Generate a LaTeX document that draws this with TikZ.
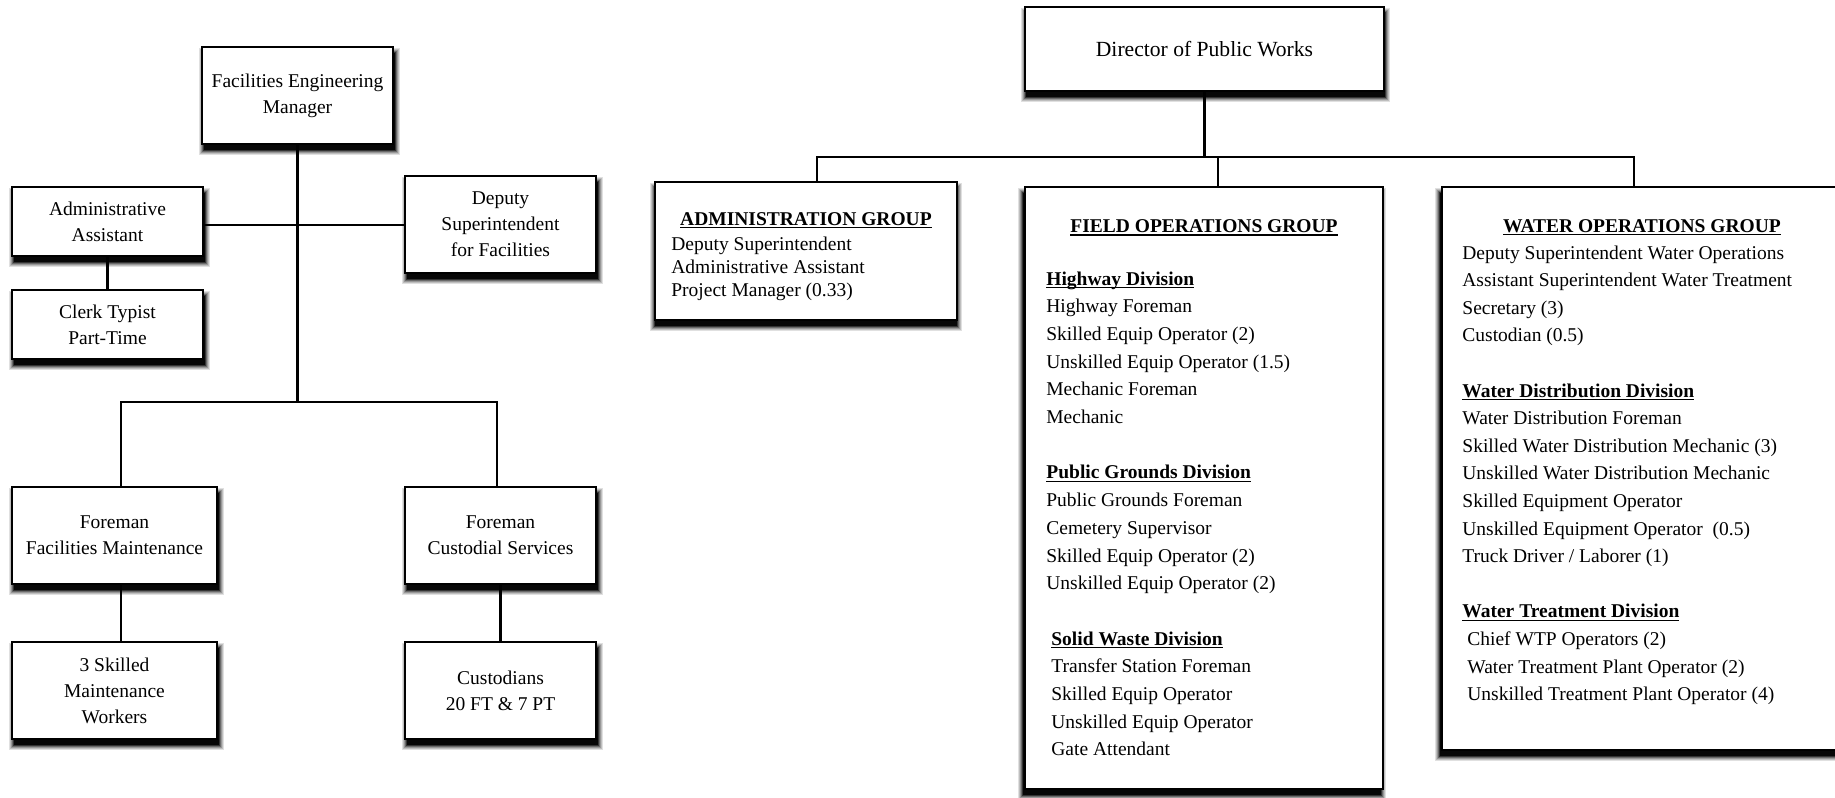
\documentclass[tikz,border=0pt]{standalone}
\usepackage{fontspec}
\setmainfont{Liberation Serif}
\usetikzlibrary{backgrounds}

% bold heading with a thin underline just below the baseline
\newcommand{\ulb}[1]{\setbox0\hbox{\bfseries #1}\rlap{\rule[-1.6bp]{\wd0}{0.75bp}}\box0}

% framed box given by its corners (x1,y1) and (x2,y2), in pixel units
\newcommand{\orgbox}[6]{%
  \pgfmathsetmacro\obw{(#4-#2)*0.5}%
  \pgfmathsetmacro\obh{(#5-#3)*0.5}%
  \node[box, minimum width=\obw bp, minimum height=\obh bp] (#1) at ({(#2+#4)/2},{(#3+#5)/2}) {#6};}

\tikzset{
  box/.style={draw=black, line width=1.15bp, fill=white, rectangle, inner sep=0pt,
    outer sep=0pt, align=center, font=\fontsize{9.75bp}{13bp}\selectfont},
  conn/.style={line width=1.15bp},
  item/.style={inner sep=0pt, anchor=base west, font=\fontsize{9.75bp}{12bp}\selectfont},
  ttl/.style={inner sep=0pt, anchor=base, font=\fontsize{9.75bp}{12bp}\selectfont},
}

\begin{document}
\begin{tikzpicture}[x=0.5bp, y=-0.5bp]
\useasboundingbox (0,0) rectangle (1835,798);

% ---------------- Facilities chart ----------------
\orgbox{fem}{202}{47}{393}{144}{Facilities Engineering\\Manager}
\orgbox{adm}{12}{187}{203}{256}{Administrative\\Assistant}
\orgbox{clk}{12}{290}{203}{359}{Clerk Typist\\Part-Time}
\orgbox{dep}{405}{176}{596}{273}{Deputy\\Superintendent\\for Facilities}
\orgbox{ffm}{12}{487}{217}{584}{Foreman\\Facilities Maintenance}
\orgbox{fcs}{405}{487}{596}{584}{Foreman\\Custodial Services}
\orgbox{skl}{12}{642}{217}{739}{3 Skilled\\Maintenance\\Workers}
\orgbox{cus}{405}{642}{596}{739}{Custodians\\20 FT \& 7 PT}

\coordinate (lj) at (298,402);
\coordinate (lbl) at (121,402);
\coordinate (lbr) at (497,402);
\coordinate (hl) at (298,225);

\draw[conn] (fem.south) -- (fem.south |- lj);
\draw[conn] (lbl |- ffm.north) -- (lbl) -- (lbr) -- (lbr |- fcs.north);
\draw[conn] (adm.east |- hl) -- (dep.west |- hl);
\draw[conn] (adm) -- (clk);
\draw[conn] (ffm.south -| lbl) -- (skl.north -| lbl);
\draw[conn] (fcs) -- (cus);

% ---------------- Public Works chart ----------------
\orgbox{dir}{1025}{7}{1384}{91}{\fontsize{10.8bp}{13bp}\selectfont Director of Public Works}
\orgbox{agp}{655}{182}{957}{320}{}
\orgbox{fop}{1025}{187}{1383}{789}{}
\orgbox{wop}{1442}{187}{1842}{750}{}

\coordinate (ra) at (817,157);
\coordinate (rf) at (1218,157);
\coordinate (rw) at (1634,157);

\draw[conn] (dir.south) -- (dir.south |- ra);
\draw[conn] (ra |- agp.north) -- (ra) -- (rw) -- (rw |- wop.north);
\draw[conn] (rf) -- (rf |- fop.north);

% Administration group
\node[ttl] (agpT) at (806,225) {\ulb{ADMINISTRATION GROUP}};
\foreach \t [count=\i] in {Deputy Superintendent, Administrative Assistant, Project Manager (0.33)}
  \node[item] (ag\i) at (671,{227+\i*23}) {\t};

% Field operations group
\node[ttl] (fopT) at (1204,232.5) {\ulb{FIELD OPERATIONS GROUP}};
\node[item] (hwH) at (1046,285) {\ulb{Highway Division}};
\foreach \t [count=\i] in {Highway Foreman, Skilled Equip Operator (2),
    Unskilled Equip Operator (1.5), Mechanic Foreman, Mechanic}
  \node[item] (hw\i) at (1046,{285+\i*27.7}) {\t};
\node[item] (pgH) at (1046,{285+7*27.7}) {\ulb{Public Grounds Division}};
\foreach \t [count=\i] in {Public Grounds Foreman, Cemetery Supervisor,
    Skilled Equip Operator (2), Unskilled Equip Operator (2)}
  \node[item] (pg\i) at (1046,{285+(7+\i)*27.7}) {\t};
\node[item] (swH) at (1051,{285+13*27.7}) {\ulb{Solid Waste Division}};
\foreach \t [count=\i] in {Transfer Station Foreman, Skilled Equip Operator,
    Unskilled Equip Operator, Gate Attendant}
  \node[item] (sw\i) at (1051,{285+(13+\i)*27.7}) {\t};

% Water operations group
\node[ttl] (wopT) at (1642,232) {\ulb{WATER OPERATIONS GROUP}};
\foreach \t [count=\i from 0] in {Deputy Superintendent Water Operations,
    Assistant Superintendent Water Treatment, Secretary (3), Custodian (0.5)}
  \node[item] (wo\i) at (1462,{259+\i*27.6}) {\t};
\node[item] (wdH) at (1462,{259+5*27.6}) {\ulb{Water Distribution Division}};
\foreach \t [count=\i] in {Water Distribution Foreman, Skilled Water Distribution Mechanic (3),
    Unskilled Water Distribution Mechanic, Skilled Equipment Operator,
    Unskilled Equipment Operator~ (0.5), Truck Driver / Laborer (1)}
  \node[item] (wd\i) at (1462,{259+(5+\i)*27.6}) {\t};
\node[item] (wtH) at (1462,{259+13*27.6}) {\ulb{Water Treatment Division}};
\foreach \t [count=\i] in {Chief WTP Operators (2), Water Treatment Plant Operator (2),
    Unskilled Treatment Plant Operator (4)}
  \node[item] (wt\i) at (1467,{259+(13+\i)*27.6}) {\t};

% soft drop shadows under every box
\begin{scope}[on background layer]
  \fill[white] (0,0) rectangle (1835,798);
  \foreach \n/\xs in {fem/2,adm/2,clk/2,dep/2,ffm/2,fcs/2,skl/2,cus/2,
                      dir/1,agp/0,fop/-2,wop/-2}{
    \foreach \i/\o in {5/0.12,4/0.15,3/0.2,2/0.3,1/0.5,0/0.85}{
      \fill[black, opacity=\o]
        ([shift={(\xs-\i,6-\i)}]\n.north west) rectangle ([shift={(\xs+\i,6+\i)}]\n.south east);
    }
  }
\end{scope}
\end{tikzpicture}
\end{document}
